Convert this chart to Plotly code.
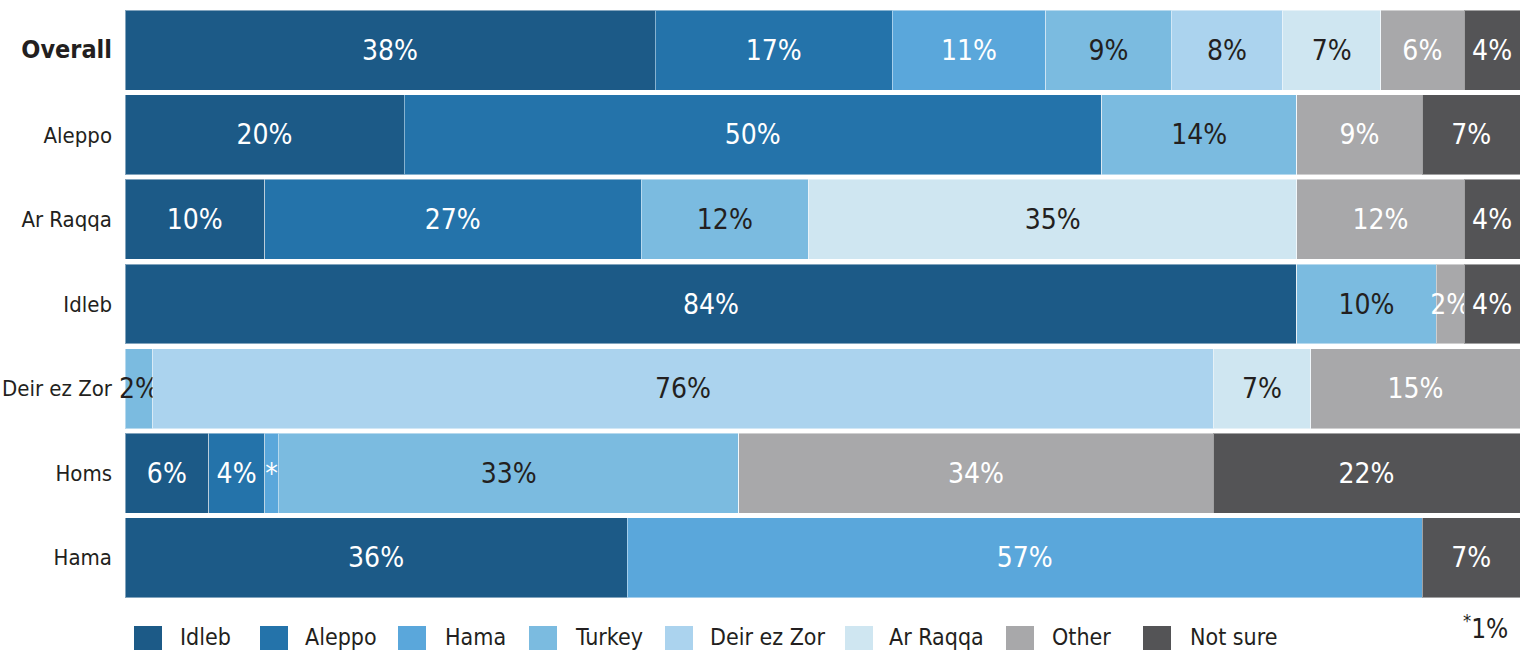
import plotly.graph_objects as go

regions = ["Overall", "Aleppo", "Ar Raqqa", "Idleb", "Deir ez Zor", "Homs", "Hama"]
series = ["Idleb", "Aleppo", "Hama", "Turkey", "Deir ez Zor", "Ar Raqqa", "Other", "Not sure"]

idleb = [38, 20, 10, 84, 0, 6, 36]
aleppo = [17, 50, 27, 0, 0, 4, 0]
hama = [11, 0, 0, 0, 0, 1, 57]
turkey = [9, 14, 12, 10, 2, 33, 0]
deir_ez_zor = [8, 0, 0, 0, 76, 0, 0]
ar_raqqa = [7, 0, 35, 0, 7, 0, 0]
other = [6, 9, 12, 2, 15, 34, 0]
not_sure = [4, 7, 4, 4, 0, 22, 7]

values = [idleb, aleppo, hama, turkey, deir_ez_zor, ar_raqqa, other, not_sure]

colors = ["#1c5a87", "#2473aa", "#5aa7db", "#7bbbe0", "#abd3ee", "#cfe6f1", "#a8a8aa", "#545456"]
text_colors = ["white", "white", "white", "#231f20", "#231f20", "#231f20", "white", "white"]

FONT = "DejaVu Sans Condensed, Liberation Sans Narrow, Liberation Sans, Arial, sans-serif"

fig = go.Figure()
for name, vals, col, tcol in zip(series, values, colors, text_colors):
    labels = []
    for v in vals:
        if v == 0:
            labels.append(None)
        elif v == 1:
            labels.append("*")
        else:
            labels.append(f"{v}%")
    fig.add_trace(go.Bar(
        name=name, y=regions, x=vals, orientation="h",
        marker=dict(color=col, line=dict(color="rgba(255,255,255,0.45)", width=1)),
        text=labels, textposition="inside", insidetextanchor="middle", textangle=0,
        textfont=dict(family=FONT, size=28, color=tcol),
        constraintext="none", cliponaxis=False,
        hoverinfo="x+y+name", showlegend=False,
    ))

tickvals = regions
ticktext = ["<b><span style='font-size:25px'>Overall</span></b>"] + regions[1:]

fig.update_layout(
    barmode="stack", bargap=0.055,
    width=1520, height=650,
    margin=dict(l=125, r=0, t=8, b=50, autoexpand=False),
    paper_bgcolor="white", plot_bgcolor="white",
    uniformtext=dict(minsize=28, mode="show"),
    xaxis=dict(range=[0, 100], showgrid=False, showticklabels=False, zeroline=False, showline=False, fixedrange=True),
    yaxis=dict(autorange="reversed", tickvals=tickvals, ticktext=ticktext, showgrid=False, automargin=False,
               ticks="", ticklen=0, ticklabelstandoff=12,
               tickfont=dict(family=FONT, size=22, color="#231f20")),
    font=dict(family=FONT, color="#231f20"),
)

# custom legend (layout positions in pixels)
legend_sq_x = [134, 260, 398, 529, 665, 845, 1006, 1143]
legend_txt_x = [178, 303, 443, 573, 708, 887, 1050, 1188]
plot_l, plot_w, plot_t, plot_h = 125, 1395, 8, 592

def px_to_paper_x(px):
    return (px - plot_l) / plot_w

def px_to_paper_y(py):
    return (plot_t + plot_h - py) / plot_h

for name, col, sx, tx in zip(series, colors, legend_sq_x, legend_txt_x):
    fig.add_shape(type="rect", xref="paper", yref="paper",
                  x0=px_to_paper_x(sx), x1=px_to_paper_x(sx + 28),
                  y0=px_to_paper_y(626), y1=px_to_paper_y(656),
                  fillcolor=col, line=dict(width=0))
    fig.add_annotation(xref="paper", yref="paper", x=px_to_paper_x(tx), y=px_to_paper_y(637),
                       xanchor="left", yanchor="middle", showarrow=False, text=name,
                       font=dict(family=FONT, size=23, color="#231f20"))

fig.add_annotation(xref="paper", yref="paper", x=px_to_paper_x(1510), y=px_to_paper_y(627),
                   xanchor="right", yanchor="middle", showarrow=False,
                   text="<sup>*</sup>1%", font=dict(family=FONT, size=26, color="#231f20"))

fig.write_html("out.html", config={"displayModeBar": False},
               post_script="document.body.style.margin='0';document.body.style.overflow='hidden';")
